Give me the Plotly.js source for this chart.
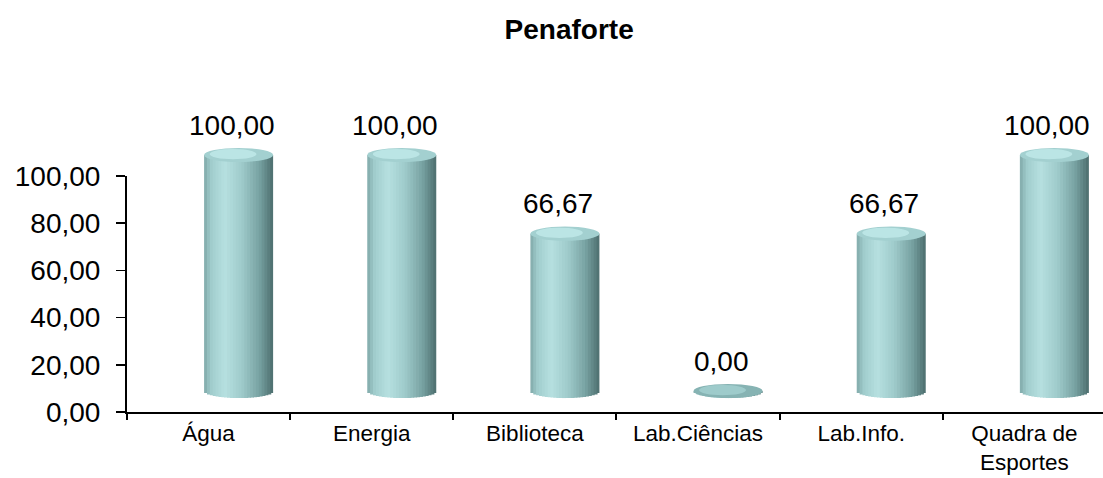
<!DOCTYPE html>
<html>
<head>
<meta charset="utf-8">
<script src="https://cdn.plot.ly/plotly-3.0.1.min.js"></script>
<style>html,body{margin:0;padding:0;background:#fff;}#chart{width:1103px;height:478px;}</style>
</head>
<body>
<div id="chart"></div>
<script>
// ---- data ----
var categories = ["Água", "Energia", "Biblioteca", "Lab.Ciências", "Lab.Info.", "Quadra de<br>Esportes"];
var values = [100.00, 100.00, 66.67, 0.00, 66.67, 100.00];
var yTicks = [0, 20, 40, 60, 80, 100];
var chartTitle = "Penaforte";

// ---- styling / geometry ----
var FONT = "Liberation Sans, Arial, sans-serif";
var barW = 0.423;          // cylinder width (category units)
var depthShift = 0.184;    // 3D perspective shift (category units)
var capH = 3.0;            // ellipse half-height (value units)
var N = 24;                // shading strips

var stops = [
  [0.00, [128, 168, 168]],
  [0.10, [160, 204, 204]],
  [0.30, [182, 224, 224]],
  [0.55, [158, 202, 202]],
  [0.80, [120, 162, 162]],
  [1.00, [76, 110, 110]]
];
function shade(t) {
  for (var i = 1; i < stops.length; i++) {
    if (t <= stops[i][0]) {
      var a = stops[i - 1], b = stops[i];
      var f = (t - a[0]) / (b[0] - a[0]);
      var c = a[1].map(function (v, k) { return Math.round(v + (b[1][k] - v) * f); });
      return "rgb(" + c.join(",") + ")";
    }
  }
  return "rgb(76,110,110)";
}

var traces = [];
// invisible trace to establish the main axes
traces.push({
  type: "bar", x: categories, y: values, xaxis: "x", yaxis: "y",
  marker: { color: "rgba(0,0,0,0)" }, hoverinfo: "skip", showlegend: false
});
// cylinder bodies built from vertical shaded strips
for (var i = 0; i < N; i++) {
  var uMid = ((i + 0.5) / N) * 2 - 1;
  var s = Math.sqrt(Math.max(0, 1 - uMid * uMid));
  var stripW = barW / N;
  traces.push({
    type: "bar",
    x: categories,
    y: values.map(function (v) { return v + capH * s; }),
    base: values.map(function () { return -capH * s; }),
    width: (i === N - 1) ? stripW : stripW * 1.35,
    offset: -barW / 2 + i * stripW,
    xaxis: "x2", yaxis: "y2",
    marker: { color: shade((i + 0.5) / N), line: { width: 0 } },
    hoverinfo: "skip", showlegend: false
  });
}

var shapes = [];
var annotations = [];
categories.forEach(function (c, idx) {
  var v = values[idx];
  shapes.push({
    type: "circle", xref: "x2", yref: "y2",
    x0: idx - barW / 2, x1: idx + barW / 2, y0: v - capH, y1: v + capH,
    fillcolor: v > 0 ? "#a3d0d0" : "#86b3b3", line: { width: 0 }
  });
  shapes.push({
    type: "circle", xref: "x2", yref: "y2",
    x0: idx - barW * 0.42, x1: idx + barW * 0.26, y0: v - capH * 0.6, y1: v + capH * 0.85,
    fillcolor: v > 0 ? "#bde6e6" : "#9fcccc", line: { width: 0 }, opacity: 0.95
  });
  annotations.push({
    xref: "x2", yref: "y2", x: idx, y: v,
    text: v.toFixed(2).replace(".", ","),
    showarrow: false, yanchor: "middle", xanchor: "center",
    yshift: 30, xshift: -7,
    font: { family: FONT, size: 28, color: "#000" }
  });
});

var layout = {
  width: 1103, height: 478,
  margin: { l: 127, r: 0, t: 20, b: 66 },
  paper_bgcolor: "#fff", plot_bgcolor: "rgba(0,0,0,0)",
  separators: ",.",
  barmode: "overlay",
  showlegend: false,
  font: { family: FONT, color: "#000" },
  title: {
    text: "<b>" + chartTitle + "</b>",
    x: 0.516, xanchor: "center", xref: "container",
    y: 1 - 29 / 478, yanchor: "middle", yref: "container",
    font: { family: FONT, size: 28, color: "#000" }
  },
  xaxis: {
    type: "category", domain: [0, 1], range: [-0.5, 5.482],
    tickson: "boundaries", ticks: "outside", ticklen: 6, tickwidth: 2, tickcolor: "#000",
    showline: true, linecolor: "#000", linewidth: 2, showgrid: false, zeroline: false,
    tickfont: { family: FONT, size: 22.5, color: "#000" },
    ticklabelstandoff: 0, fixedrange: true
  },
  yaxis: {
    domain: [0, 236 / 392], range: [0, 100],
    tickvals: yTicks, tickformat: ".2f",
    ticks: "outside", ticklen: 9, tickwidth: 1.5, tickcolor: "#000",
    showline: true, linecolor: "#000", linewidth: 2, showgrid: false, zeroline: false,
    tickfont: { family: FONT, size: 28, color: "#000" },
    ticklabelstandoff: 10, fixedrange: true
  },
  xaxis2: {
    type: "category", domain: [0, 1], anchor: "y2",
    range: [-0.5 - depthShift, 5.482 - depthShift], visible: false, fixedrange: true
  },
  yaxis2: {
    domain: [0, 282 / 392], anchor: "x2",
    range: [-21 / 2.36, 282 / 2.36 - 21 / 2.36], visible: false, fixedrange: true
  },
  shapes: shapes,
  annotations: annotations
};

Plotly.newPlot("chart", traces, layout, { displayModeBar: false, staticPlot: true });
</script>
</body>
</html>
